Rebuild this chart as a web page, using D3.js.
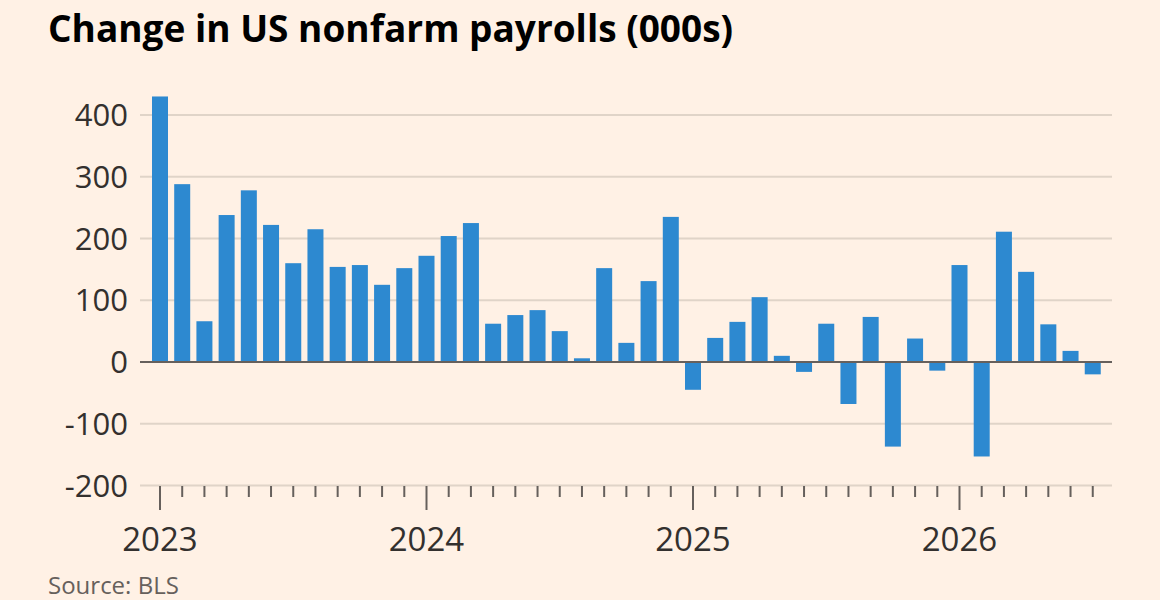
<!DOCTYPE html>
<html><head><meta charset="utf-8">
<script src="https://cdn.jsdelivr.net/npm/d3@7"></script>
<style>
body{margin:0;background:#fff1e5;font-family:"Open Sans",sans-serif}
</style></head><body>
<svg id="c" width="1160" height="600"></svg>
<script>
const startYear = 2023
const payrolls = [430,288,66,238,278,222,160,215,154,157,125,152,
  172,204,225,62,76,84,50,6,152,31,131,235,
  -45,39,65,105,10,-16,62,-68,73,-137,38,-14,
  157,-153,211,146,61,18,-20]
const yTicks = [-200,-100,0,100,200,300,400]
const yearLabels = ['2023','2024','2025','2026']

const svg = d3.select('#c')
svg.append('rect').attr('width',1160).attr('height',600).attr('fill','#fff1e5')

const x = d3.scaleLinear().domain([0,12]).range([160,426.5])
const y = d3.scaleLinear().domain([-200,400]).range([485.5,115])

// gridlines + y labels
svg.append('g').selectAll('line').data(yTicks.filter(d=>d!==0)).join('line')
  .attr('x1',140).attr('x2',1112).attr('y1',d=>y(d)).attr('y2',d=>y(d))
  .attr('stroke','#e0d4c8').attr('stroke-width',2)
svg.append('g').selectAll('text').data(yTicks).join('text')
  .attr('x',128).attr('y',d=>y(d)+11).attr('text-anchor','end')
  .attr('font-size',31).attr('fill','#33302e').text(d=>d)

// bars
svg.append('g').selectAll('rect').data(payrolls).join('rect')
  .attr('x',(d,i)=>x(i)-8).attr('width',16)
  .attr('y',d=>y(Math.max(0,d))).attr('height',d=>Math.abs(y(d)-y(0)))
  .attr('fill','#2d89d0')

// zero line
svg.append('line').attr('x1',140).attr('x2',1112).attr('y1',y(0)).attr('y2',y(0))
  .attr('stroke','#66605c').attr('stroke-width',2)

// x axis ticks
const months = d3.range(payrolls.length)
svg.append('g').selectAll('line').data(months).join('line')
  .attr('x1',d=>x(d)).attr('x2',d=>x(d)).attr('y1',486)
  .attr('y2',d=>d%12===0?510:497).attr('stroke','#66605c').attr('stroke-width',2)
svg.append('g').selectAll('text').data(yearLabels).join('text')
  .attr('x',(d,i)=>x(i*12)).attr('y',551).attr('text-anchor','middle')
  .attr('font-size',33).attr('fill','#33302e').text(d=>d)

svg.append('text').attr('x',48).attr('y',42).attr('font-size',37).attr('font-weight',700)
  .attr('fill','#000').text('Change in US nonfarm payrolls (000s)')
svg.append('text').attr('x',48).attr('y',594).attr('font-size',24)
  .attr('fill','#66605c').text('Source: BLS')
</script></body></html>
